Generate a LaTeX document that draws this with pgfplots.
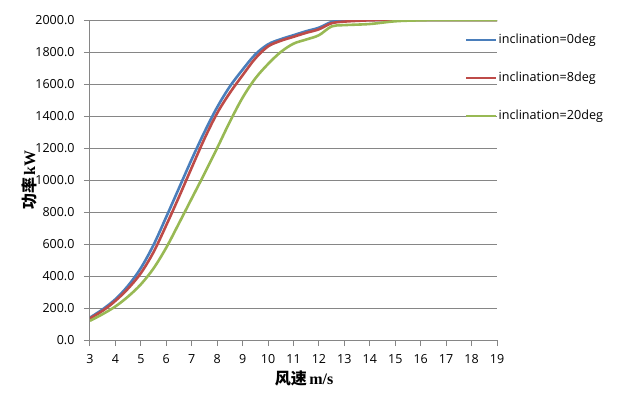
\documentclass[border=0pt]{standalone}
\usepackage{pgfplots}
\pgfplotsset{compat=1.18}
\usepackage{fontspec}
\setmainfont{Open Sans}
\newfontfamily\cjk{Noto Sans CJK SC}
\newfontfamily\tms{Liberation Serif}
\definecolor{cblue}{RGB}{74,126,187}
\definecolor{cred}{RGB}{190,75,72}
\definecolor{cgreen}{RGB}{152,185,84}
\definecolor{cgrid}{RGB}{134,134,134}
\begin{document}
\begin{tikzpicture}
\useasboundingbox (-90pt,-57pt) rectangle (530pt,340pt);
\begin{axis}[
  at={(0pt,0pt)}, anchor=south west,
  scale only axis, width=407pt, height=320pt,
  xmin=3, xmax=19, ymin=0, ymax=2000,
  xtick={3,4,...,19}, ytick={0,200,...,2000},
  axis x line*=bottom, axis y line*=left,
  axis line style={cgrid, line width=1pt},
  tick style={cgrid, line width=1pt},
  tick align=outside, major tick length=6pt,
  ymajorgrids, grid style={cgrid, line width=1pt},
  yticklabel style={xshift=-6pt, /pgf/number format/.cd, fixed, fixed zerofill, precision=1, 1000 sep={}},
  xticklabel style={yshift=-5pt},
  /pgf/number format/assume math mode=true,
  ticklabel style={font=\fontsize{12.5}{14}\selectfont},
  xlabel={\cjk\bfseries 风速\,\tms m/s},
  ylabel={\cjk\bfseries 功率\,\tms kW},
  label style={font=\fontsize{16}{18}\selectfont},
  xlabel style={at={(axis description cs:0.526,-0.119)}, anchor=center},
  ylabel style={at={(axis description cs:-0.150,0.5)}, anchor=center},
  legend style={draw=none, fill=none, at={(axis description cs:0.921,0.969)}, anchor=north west,
     font=\fontsize{12.6}{14}\selectfont, row sep=22pt, inner xsep=0pt,
     nodes={inner xsep=1pt, text height=9pt, text depth=3pt}},
  legend cell align=left,
  legend image code/.code={\draw[#1, line width=2.6pt] (0pt,0pt) -- (30pt,0pt);},
]
\addplot[cblue, line width=2.6pt, smooth, tension=0.55] coordinates {
(3,140)(3.5,192)(4,255)(4.5,340)(5,450)(5.5,595)(6,770)(6.5,950)(7,1130)(7.5,1300)(8,1455)(8.5,1585)(9,1690)(9.5,1785)(10,1848)(10.5,1880)(11,1905)(11.5,1930)(12,1952)(12.5,1988)(13,1997)(14,2000)(15,2000)(16,2000)(17,2000)(18,2000)(19,2000)};
\addlegendentry{inclination=0deg}
\addplot[cred, line width=2.6pt, smooth, tension=0.55] coordinates {
(3,135)(3.5,183)(4,245)(4.5,322)(5,418)(5.5,550)(6,718)(6.5,895)(7,1078)(7.5,1258)(8,1418)(8.5,1545)(9,1655)(9.5,1760)(10,1835)(10.5,1870)(11,1895)(11.5,1920)(12,1942)(12.5,1980)(13,1990)(14,1998)(15,2000)(16,2000)(17,2000)(18,2000)(19,2000)};
\addlegendentry{inclination=8deg}
\addplot[cgreen, line width=2.6pt, smooth, tension=0.55] coordinates {
(3,120)(3.5,162)(4,210)(4.5,272)(5,348)(5.5,448)(6,578)(6.5,730)(7,885)(7.5,1040)(8,1200)(8.5,1365)(9,1515)(9.5,1635)(10,1725)(10.5,1800)(11,1852)(11.5,1878)(12,1905)(12.5,1960)(13,1968)(14,1975)(15,1992)(16,1998)(17,2000)(18,2000)(19,2000)};
\addlegendentry{inclination=20deg}
\end{axis}
\end{tikzpicture}
\end{document}
